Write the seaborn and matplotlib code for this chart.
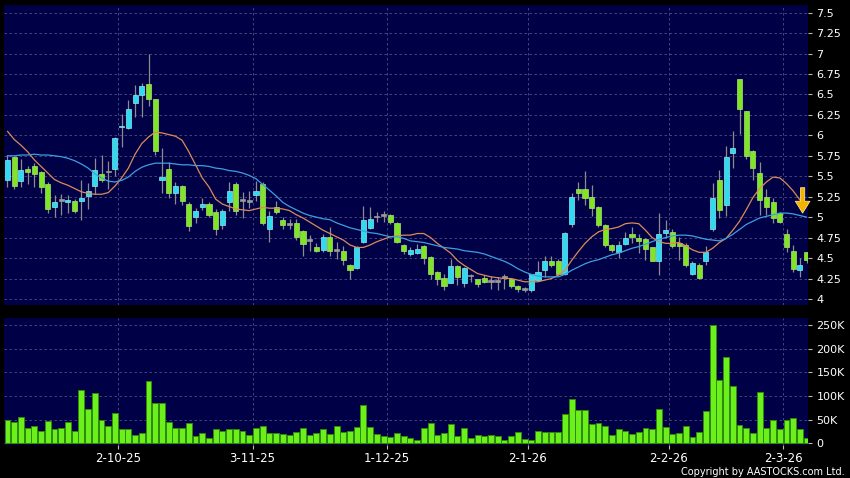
import numpy as np
import pandas as pd
import matplotlib
matplotlib.use('Agg')
import matplotlib.pyplot as plt
import seaborn as sns

# daily candles, Sep 2025 - Mar 2026 (120 trading days)
opens = [5.45, 5.73, 5.44, 5.59, 5.62, 5.55, 5.40, 5.12, 5.20, 5.18,
         5.20, 5.20, 5.26, 5.38, 5.53, 5.55, 5.59, 6.10, 6.09, 6.39,
         6.49, 6.63, 6.44, 5.45, 5.59, 5.30, 5.38, 5.16, 5.00, 5.12,
         5.16, 5.06, 4.91, 5.18, 5.40, 5.20, 5.19, 5.27, 5.41, 4.86,
         5.13, 4.97, 4.91, 4.93, 4.83, 4.71, 4.63, 4.60, 4.76, 4.59,
         4.59, 4.41, 4.38, 4.70, 4.87, 5.00, 5.02, 5.03, 4.93, 4.66,
         4.55, 4.56, 4.65, 4.51, 4.33, 4.26, 4.20, 4.40, 4.20, 4.28,
         4.24, 4.26, 4.21, 4.21, 4.26, 4.24, 4.16, 4.11, 4.11, 4.23,
         4.35, 4.47, 4.47, 4.30, 4.92, 5.34, 5.34, 5.25, 5.13, 4.91,
         4.66, 4.58, 4.67, 4.80, 4.75, 4.73, 4.63, 4.46, 4.81, 4.82,
         4.68, 4.66, 4.31, 4.42, 4.47, 4.85, 5.45, 5.15, 5.78, 6.69,
         6.30, 5.81, 5.54, 5.25, 5.19, 5.05, 4.80, 4.59, 4.35, 4.57]
highs = [5.76, 5.75, 5.71, 5.63, 5.66, 5.57, 5.43, 5.27, 5.28, 5.27,
         5.22, 5.46, 5.42, 5.72, 5.76, 5.69, 5.98, 6.26, 6.43, 6.62,
         6.64, 7.00, 6.45, 5.85, 5.67, 5.43, 5.39, 5.19, 5.11, 5.24,
         5.18, 5.10, 5.10, 5.43, 5.43, 5.31, 5.32, 5.44, 5.43, 5.07,
         5.20, 5.00, 4.98, 4.98, 4.84, 4.78, 4.68, 4.80, 4.88, 4.70,
         4.65, 4.43, 4.65, 5.14, 5.13, 5.06, 5.07, 5.04, 4.94, 4.67,
         4.64, 4.67, 4.66, 4.52, 4.34, 4.30, 4.49, 4.41, 4.39, 4.31,
         4.25, 4.29, 4.28, 4.27, 4.31, 4.25, 4.17, 4.14, 4.31, 4.47,
         4.53, 4.52, 4.49, 4.82, 5.29, 5.43, 5.57, 5.39, 5.14, 4.92,
         4.67, 4.71, 4.82, 4.88, 4.80, 4.74, 4.64, 5.05, 4.96, 4.86,
         4.76, 4.68, 4.46, 4.44, 4.65, 5.42, 5.58, 5.87, 6.05, 6.69,
         6.30, 5.82, 5.67, 5.35, 5.23, 5.06, 4.85, 4.66, 4.50, 4.57]
lows = [5.37, 5.34, 5.37, 5.40, 5.37, 5.30, 5.05, 5.00, 5.03, 5.05,
        5.05, 4.97, 5.10, 5.28, 5.43, 5.35, 5.50, 5.86, 6.08, 6.23,
        6.23, 6.36, 5.76, 5.30, 5.23, 5.16, 5.15, 4.83, 4.93, 5.09,
        5.00, 4.78, 4.85, 5.08, 5.03, 4.99, 5.11, 5.20, 4.90, 4.70,
        5.04, 4.85, 4.85, 4.72, 4.53, 4.59, 4.57, 4.57, 4.53, 4.49,
        4.41, 4.25, 4.37, 4.68, 4.86, 4.94, 4.94, 4.92, 4.68, 4.55,
        4.53, 4.55, 4.43, 4.25, 4.17, 4.11, 4.19, 4.17, 4.15, 4.21,
        4.15, 4.19, 4.12, 4.11, 4.12, 4.13, 4.09, 4.09, 4.09, 4.22,
        4.27, 4.39, 4.29, 4.29, 4.88, 5.21, 5.15, 5.02, 4.88, 4.64,
        4.57, 4.50, 4.66, 4.69, 4.56, 4.48, 4.46, 4.29, 4.74, 4.62,
        4.48, 4.39, 4.29, 4.25, 4.42, 4.83, 4.99, 5.01, 5.60, 6.02,
        5.71, 5.46, 5.03, 5.03, 4.93, 4.93, 4.58, 4.33, 4.27, 4.44]
closes = [5.70, 5.38, 5.58, 5.55, 5.53, 5.37, 5.10, 5.19, 5.20, 5.21,
          5.08, 5.23, 5.32, 5.58, 5.46, 5.55, 5.97, 6.12, 6.32, 6.49,
          6.60, 6.45, 5.81, 5.49, 5.29, 5.38, 5.20, 4.89, 5.07, 5.16,
          5.03, 4.86, 5.08, 5.32, 5.08, 5.20, 5.19, 5.32, 4.93, 5.02,
          5.06, 4.90, 4.91, 4.76, 4.67, 4.71, 4.59, 4.76, 4.59, 4.59,
          4.48, 4.35, 4.63, 4.97, 4.98, 5.00, 5.02, 4.94, 4.70, 4.59,
          4.60, 4.61, 4.50, 4.31, 4.25, 4.16, 4.40, 4.27, 4.38, 4.28,
          4.18, 4.21, 4.21, 4.21, 4.26, 4.16, 4.12, 4.11, 4.30, 4.33,
          4.46, 4.42, 4.30, 4.81, 5.25, 5.30, 5.23, 5.11, 4.91, 4.66,
          4.60, 4.66, 4.75, 4.76, 4.71, 4.61, 4.47, 4.79, 4.84, 4.65,
          4.65, 4.42, 4.44, 4.26, 4.57, 5.23, 5.09, 5.74, 5.84, 6.32,
          5.75, 5.60, 5.21, 5.12, 4.99, 4.94, 4.63, 4.37, 4.42, 4.48]

# moving averages as drawn on the chart
ma_fast = [6.05, 5.95, 5.88, 5.80, 5.70, 5.62, 5.54, 5.46, 5.42, 5.39,
           5.35, 5.31, 5.29, 5.28, 5.28, 5.30, 5.38, 5.48, 5.60, 5.77,
           5.90, 5.98, 6.04, 6.03, 6.01, 5.99, 5.94, 5.80, 5.64, 5.48,
           5.37, 5.22, 5.16, 5.13, 5.10, 5.09, 5.08, 5.10, 5.12, 5.11,
           5.11, 5.10, 5.08, 5.03, 4.99, 4.94, 4.89, 4.84, 4.80, 4.76,
           4.72, 4.66, 4.63, 4.63, 4.66, 4.70, 4.73, 4.76, 4.77, 4.78,
           4.78, 4.80, 4.80, 4.75, 4.68, 4.62, 4.56, 4.47, 4.41, 4.36,
           4.31, 4.29, 4.27, 4.26, 4.25, 4.25, 4.23, 4.21, 4.21, 4.21,
           4.23, 4.25, 4.29, 4.35, 4.47, 4.58, 4.68, 4.76, 4.82, 4.85,
           4.86, 4.88, 4.92, 4.93, 4.92, 4.84, 4.75, 4.70, 4.68, 4.68,
           4.69, 4.65, 4.60, 4.57, 4.57, 4.62, 4.69, 4.74, 4.84, 4.95,
           5.09, 5.24, 5.35, 5.43, 5.49, 5.48, 5.41, 5.32, 5.21, 5.14]
ma_slow = [5.75, 5.75, 5.76, 5.76, 5.77, 5.76, 5.76, 5.75, 5.74, 5.72,
           5.69, 5.65, 5.60, 5.53, 5.48, 5.44, 5.43, 5.45, 5.49, 5.56,
           5.61, 5.64, 5.66, 5.66, 5.66, 5.65, 5.64, 5.64, 5.63, 5.63,
           5.62, 5.60, 5.59, 5.57, 5.56, 5.54, 5.51, 5.47, 5.40, 5.33,
           5.26, 5.18, 5.13, 5.09, 5.05, 5.02, 5.00, 4.98, 4.97, 4.93,
           4.90, 4.87, 4.85, 4.83, 4.81, 4.80, 4.78, 4.76, 4.76, 4.74,
           4.71, 4.70, 4.69, 4.67, 4.65, 4.63, 4.62, 4.61, 4.59, 4.58,
           4.57, 4.55, 4.52, 4.49, 4.46, 4.42, 4.37, 4.33, 4.30, 4.28,
           4.27, 4.27, 4.27, 4.30, 4.35, 4.39, 4.43, 4.46, 4.48, 4.51,
           4.54, 4.56, 4.59, 4.62, 4.64, 4.67, 4.70, 4.73, 4.75, 4.77,
           4.78, 4.78, 4.77, 4.75, 4.73, 4.72, 4.71, 4.74, 4.79, 4.85,
           4.91, 4.95, 4.99, 5.01, 5.03, 5.05, 5.05, 5.04, 5.02, 5.00]

# volume in thousands of shares
volume_k = [49, 46, 55, 32, 36, 27, 48, 31, 32, 45,
            26, 113, 73, 106, 49, 37, 65, 30, 30, 18,
            21, 132, 86, 85, 45, 32, 32, 43, 16, 21,
            12, 31, 25, 30, 30, 26, 18, 33, 37, 21,
            21, 20, 18, 24, 32, 18, 22, 30, 20, 37,
            23, 25, 34, 81, 35, 20, 15, 13, 22, 15,
            11, 8, 33, 43, 18, 22, 40, 16, 32, 11,
            18, 15, 17, 16, 6, 16, 23, 9, 6, 26,
            24, 24, 23, 61, 93, 70, 70, 40, 43, 37,
            18, 30, 26, 20, 24, 32, 31, 73, 35, 20,
            21, 37, 13, 23, 68, 250, 134, 182, 122, 39,
            32, 22, 109, 32, 49, 30, 49, 53, 30, 11]

# month ticks sit on the left edge of the first trading day
date_ticks = [16.5, 36.5, 56.5, 77.5, 98.5, 115.5]
date_labels = ['2-10-25', '3-11-25', '1-12-25', '2-1-26', '2-2-26', '2-3-26']
price_ticks = [4, 4.25, 4.5, 4.75, 5, 5.25, 5.5, 5.75, 6, 6.25, 6.5, 6.75, 7, 7.25, 7.5]
price_labels = ['4', '4.25', '4.5', '4.75', '5', '5.25', '5.5', '5.75', '6',
                '6.25', '6.5', '6.75', '7', '7.25', '7.5']
vol_ticks = [0, 50, 100, 150, 200, 250]
vol_labels = ['0', '50K', '100K', '150K', '200K', '250K']

df = pd.DataFrame({'day': np.arange(len(opens)), 'open': opens, 'high': highs,
                   'low': lows, 'close': closes, 'ma_fast': ma_fast,
                   'ma_slow': ma_slow, 'vol': volume_k})

navy = '#000046'
grid_kw = dict(color='#4f4f86', linestyle=(0, (3, 3)), linewidth=0.6)

sns.set_style('dark', {'axes.facecolor': navy, 'figure.facecolor': 'black'})
plt.rcParams['font.family'] = ['DejaVu Sans']

fig = plt.figure(figsize=(8.5, 4.78), dpi=100, facecolor='black')
ax_p = fig.add_axes([4 / 850, 1 - 305 / 478, 804 / 850, 300 / 478])
ax_v = fig.add_axes([4 / 850, 1 - 445 / 478, 804 / 850, 127 / 478])

# candles
up = df['close'] > df['open']
down = df['close'] < df['open']
flat = ~(up | down)
ax_p.vlines(df['day'], df['low'], df['high'], color='#8c8c8c', linewidth=0.9, zorder=2)
for mask, fc, ec in [(up, '#2fdcef', '#8ee9f2'), (down, '#7fe524', '#a9e278'),
                     (flat, '#9a9a9a', '#9a9a9a')]:
    sub = df[mask]
    height = (sub['close'] - sub['open']).abs().clip(lower=0.018)
    bottom = sub[['open', 'close']].min(axis=1)
    ax_p.bar(sub['day'], height, bottom=bottom, width=0.76, color=fc,
             edgecolor=ec, linewidth=0.5, zorder=3)

sns.lineplot(data=df, x='day', y='ma_fast', color='#dc8a58', linewidth=0.9, ax=ax_p, zorder=4)
sns.lineplot(data=df, x='day', y='ma_slow', color='#3d9fe0', linewidth=0.9, ax=ax_p, zorder=4)

ax_p.annotate('', xy=(118.4, 5.05), xytext=(118.4, 5.36),
              arrowprops=dict(arrowstyle='simple,head_width=1.05,head_length=0.85,tail_width=0.3',
                              fc='#f4b300', ec='#ffe37a', lw=0.6, mutation_scale=10,
                              shrinkA=0, shrinkB=0), zorder=6)

# volume
sns.barplot(data=df, x='day', y='vol', native_scale=True, color='#6cf01c',
            edgecolor='#2f8a0a', linewidth=0.7, width=0.88, saturation=1,
            errorbar=None, ax=ax_v, zorder=3)

for ax in (ax_p, ax_v):
    ax.set_facecolor(navy)
    ax.set_xlim(-0.52, 119.2)
    ax.set_xticks(date_ticks)
    ax.grid(True, axis='both', **grid_kw)
    ax.set_axisbelow(True)
    ax.yaxis.tick_right()
    ax.set_xlabel('')
    ax.set_ylabel('')
    for s in ax.spines.values():
        s.set_visible(False)
    ax.tick_params(axis='y', colors='#bbbbbb', labelcolor='white', length=3,
                   width=0.8, pad=3, labelsize=8, right=True, left=False)

ax_p.set_ylim(3.926, 7.594)
ax_p.set_yticks(price_ticks)
ax_p.set_yticklabels(price_labels)
ax_p.tick_params(axis='x', length=0, labelbottom=False)

ax_v.set_ylim(-3.6, 264.8)
ax_v.set_yticks(vol_ticks)
ax_v.set_yticklabels(vol_labels)
ax_v.set_xticklabels(date_labels)
ax_v.tick_params(axis='x', colors='#bbbbbb', labelcolor='white', length=3,
                 width=0.8, pad=2, labelsize=8.5, bottom=True)

fig.text(0.994, 0.002, 'Copyright by AASTOCKS.com Ltd.', ha='right', va='bottom',
         color='white', fontsize=7)

fig.savefig('out.png', dpi=100, facecolor='black')
